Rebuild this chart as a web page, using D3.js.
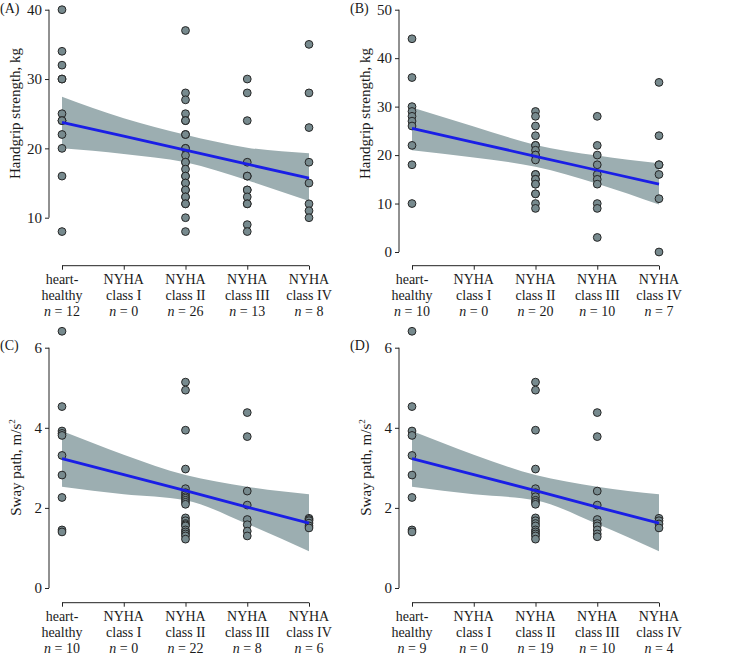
<!DOCTYPE html>
<html>
<head>
<meta charset="utf-8">
<script src="https://cdn.jsdelivr.net/npm/d3@7"></script>
<style>
  html, body { margin: 0; padding: 0; background: #fff; }
  svg { display: block; }
  text { font-family: "Liberation Serif", "DejaVu Serif", serif; fill: #1a1a1a; }
</style>
</head>
<body>
<svg id="chart" width="756" height="655"></svg>
<script>
// ---------------- DATA ----------------
const categories = ["hh", "I", "II", "III", "IV"];
const catLine1 = ["heart-", "NYHA", "NYHA", "NYHA", "NYHA"];
const catLine2 = ["healthy", "class I", "class II", "class III", "class IV"];

// Panel A: handgrip strength (kg)
const nA = [12, 0, 26, 13, 8];
const ptsA_hh  = [40, 34, 32, 30, 30, 25, 24, 24, 22, 20, 16, 8];
const ptsA_I   = [];
const ptsA_II  = [37, 28, 27, 25, 24, 24, 22, 22, 20, 20, 19, 18, 18, 17, 16, 16, 15, 15, 14, 14, 13, 13, 12, 12, 10, 8];
const ptsA_III = [30, 28, 24, 18, 16, 16, 14, 14, 13, 12, 12, 9, 8];
const ptsA_IV  = [35, 28, 23, 18, 15, 12, 11, 10];
const fitA   = [23.76, 21.75, 19.73, 17.72, 15.71];
const upperA = [27.46, 24.35, 21.95, 20.1, 19.28];
const lowerA = [20.0, 19.2, 17.98, 15.4, 12.4];
const ticksA = [10, 20, 30, 40];

// Panel B: handgrip strength (kg)
const nB = [10, 0, 20, 10, 7];
const ptsB_hh  = [44, 36, 30, 29, 28, 27, 26, 22, 18, 10];
const ptsB_I   = [];
const ptsB_II  = [29, 28, 26, 24, 22, 22, 21, 20, 20, 19, 16, 16, 15, 15, 14, 14, 12, 12, 10, 9];
const ptsB_III = [28, 22, 20, 18, 16, 15, 14, 10, 9, 3];
const ptsB_IV  = [35, 24, 18, 18, 16, 11, 0];
const fitB   = [25.5, 22.62, 19.75, 16.87, 14.0];
const upperB = [29.8, 25.9, 22.1, 19.9, 18.3];
const lowerB = [21.0, 19.5, 17.6, 14.1, 9.8];
const ticksB = [0, 10, 20, 30, 40, 50];

// Panel C: sway path (m/s²)
const nC = [10, 0, 22, 8, 6];
const ptsC_hh  = [6.41, 4.53, 3.92, 3.86, 3.81, 3.31, 2.82, 2.26, 1.45, 1.40];
const ptsC_I   = [];
const ptsC_II  = [5.14, 4.94, 3.94, 2.97, 2.48, 2.38, 2.33, 2.28, 2.24, 2.19, 2.14, 2.09, 1.75, 1.68, 1.61, 1.58, 1.55, 1.45, 1.40, 1.35, 1.30, 1.22];
const ptsC_III = [4.38, 3.78, 2.42, 2.07, 1.71, 1.58, 1.42, 1.30];
const ptsC_IV  = [1.74, 1.71, 1.68, 1.62, 1.55, 1.50];
const fitC   = [3.23, 2.83, 2.43, 2.02, 1.62];
const upperC = [3.92, 3.33, 2.82, 2.53, 2.34];
const lowerC = [2.53, 2.34, 2.19, 1.6, 0.92];
const ticksC = [0, 2, 4, 6];

// Panel D: sway path (m/s²)
const nD = [9, 0, 19, 10, 4];
const ptsD_hh  = [6.41, 4.53, 3.92, 3.81, 3.31, 2.82, 2.26, 1.45, 1.40];
const ptsD_I   = [];
const ptsD_II  = [5.14, 4.94, 3.94, 2.97, 2.48, 2.38, 2.28, 2.19, 2.14, 2.09, 1.75, 1.68, 1.61, 1.55, 1.45, 1.40, 1.35, 1.30, 1.22];
const ptsD_III = [4.38, 3.78, 2.42, 2.07, 1.71, 1.61, 1.55, 1.45, 1.35, 1.28];
const ptsD_IV  = [1.74, 1.68, 1.60, 1.50];
const fitD   = [3.23, 2.83, 2.43, 2.02, 1.62];
const upperD = [3.92, 3.33, 2.82, 2.53, 2.34];
const lowerD = [2.53, 2.34, 2.19, 1.6, 0.92];
const ticksD = [0, 2, 4, 6];

// ---------------- DRAWING ----------------
const svg = d3.select("#chart");
const COL_PT = "#778a8e", COL_PT_STROKE = "#262626", COL_BAND = "#9caeb1", COL_LINE = "#1a1ee6";

const panels = [
  { label: "(A)", ox: 0,   oy: 0,   pts: [ptsA_hh, ptsA_I, ptsA_II, ptsA_III, ptsA_IV], n: nA, fit: fitA, up: upperA, lo: lowerA, ticks: ticksA, dom: [10, 40], rng: [217.7, 9.7], title: "hg" },
  { label: "(B)", ox: 350, oy: 0,   pts: [ptsB_hh, ptsB_I, ptsB_II, ptsB_III, ptsB_IV], n: nB, fit: fitB, up: upperB, lo: lowerB, ticks: ticksB, dom: [0, 50], rng: [252, 9.7], title: "hg" },
  { label: "(C)", ox: 0,   oy: 337, pts: [ptsC_hh, ptsC_I, ptsC_II, ptsC_III, ptsC_IV], n: nC, fit: fitC, up: upperC, lo: lowerC, ticks: ticksC, dom: [0, 6], rng: [251, 10.7], title: "sw" },
  { label: "(D)", ox: 350, oy: 337, pts: [ptsD_hh, ptsD_I, ptsD_II, ptsD_III, ptsD_IV], n: nD, fit: fitD, up: upperD, lo: lowerD, ticks: ticksD, dom: [0, 6], rng: [251, 10.7], title: "sw" }
];

const axisY0 = 265.7;
const yAxisX = 49;

panels.forEach(p => {
  const g = svg.append("g").attr("transform", `translate(${p.ox},${p.oy})`);
  const x = d3.scalePoint().domain(categories).range([62, 309]);
  const y = d3.scaleLinear().domain(p.dom).range(p.rng);

  // band
  const band = categories.map((c, i) => ({ c, lo: p.lo[i], up: p.up[i] }));
  g.append("path")
    .datum(band)
    .attr("fill", COL_BAND)
    .attr("d", d3.area().x(d => x(d.c)).y0(d => y(d.lo)).y1(d => y(d.up)).curve(d3.curveMonotoneX));

  // points
  categories.forEach((c, i) => {
    g.append("g").selectAll("circle").data(p.pts[i]).join("circle")
      .attr("cx", x(c)).attr("cy", d => y(d)).attr("r", 3.9)
      .attr("fill", COL_PT).attr("stroke", COL_PT_STROKE).attr("stroke-width", 1);
  });

  // fit line
  const fit = categories.map((c, i) => ({ c, v: p.fit[i] }));
  g.append("path").datum(fit)
    .attr("fill", "none").attr("stroke", COL_LINE).attr("stroke-width", 2.8)
    .attr("d", d3.line().x(d => x(d.c)).y(d => y(d.v)));

  // y axis (capped at range of breaks)
  const yAx = g.append("g").attr("transform", `translate(${yAxisX},0)`)
    .call(d3.axisLeft(y).tickValues(p.ticks).tickSize(4).tickPadding(3).tickFormat(d3.format("d")));
  yAx.select(".domain").attr("d", `M0,${y(d3.min(p.ticks))}V${y(d3.max(p.ticks))}`).attr("stroke", "#222");
  yAx.selectAll(".tick line").attr("stroke", "#222");
  yAx.selectAll(".tick text").attr("font-size", 15).attr("font-family", "Liberation Serif").attr("fill", "#1a1a1a");

  // x axis
  const xAx = g.append("g").attr("transform", `translate(0,${axisY0})`)
    .call(d3.axisBottom(x).tickSize(4).tickFormat(""));
  xAx.select(".domain").attr("d", `M${x(categories[0])},0H${x(categories[4])}`).attr("stroke", "#222");
  xAx.selectAll(".tick line").attr("stroke", "#222");

  categories.forEach((c, i) => {
    const t = g.append("text").attr("text-anchor", "middle").attr("font-size", 14)
      .attr("x", x(c)).attr("y", axisY0 + 18.5);
    t.append("tspan").attr("x", x(c)).text(catLine1[i]);
    t.append("tspan").attr("x", x(c)).attr("dy", 16).text(catLine2[i]);
    const t3 = t.append("tspan").attr("x", x(c)).attr("dy", 16);
    t3.append("tspan").attr("font-style", "italic").text("n");
    t3.append("tspan").text(" = " + p.n[i]);
  });

  // panel label
  g.append("text").attr("x", 0).attr("y", 13).attr("font-size", 14).text(p.label);

  // y title
  if (p.title === "hg") {
    g.append("text").attr("text-anchor", "middle").attr("font-size", 15)
      .attr("transform", `translate(20,113.5) rotate(-90)`)
      .text("Handgrip strength, kg");
  } else {
    const tt = g.append("text").attr("text-anchor", "middle").attr("font-size", 15)
      .attr("transform", `translate(21,130.5) rotate(-90)`);
    tt.append("tspan").text("Sway path, m/s");
    tt.append("tspan").attr("font-size", 9).attr("dy", -6).text("2");
  }
});
</script>
</body>
</html>
